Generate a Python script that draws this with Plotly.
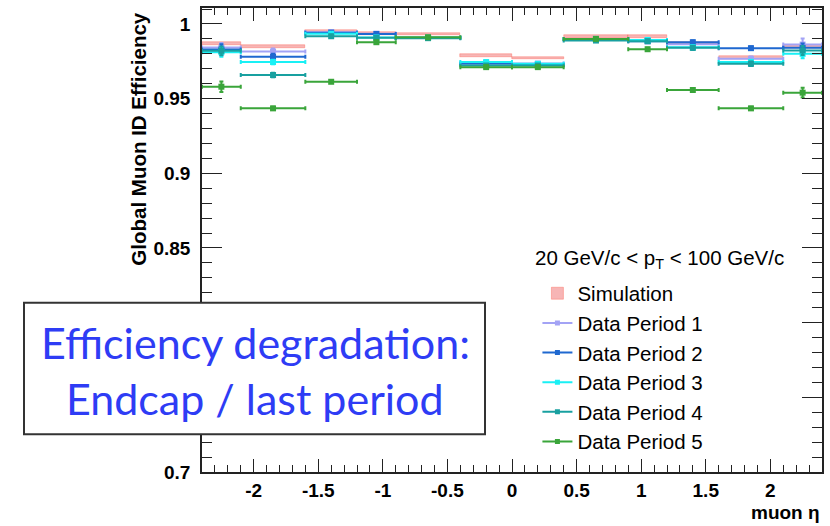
import plotly.graph_objects as go

# ---------------- data ----------------
bin_edges = [-2.4, -2.1, -1.6, -1.2, -0.9, -0.4, 0.0, 0.4, 0.9, 1.2, 1.6, 2.1, 2.4]

sim = [0.9869, 0.9847, 0.9953, 0.9935, 0.9933, 0.9789, 0.9773, 0.9916, 0.9916, 0.9872, 0.9778, 0.9849]
sim_err = [0.0012, 0.0010, 0.0008, 0.0008, 0.0008, 0.0008, 0.0008, 0.0008, 0.0008, 0.0008, 0.0010, 0.0012]

period1 = [0.9842, 0.9816, 0.9945, 0.9935, 0.9908, 0.9733, 0.9735, 0.9900, 0.9890, 0.9865, 0.9767, 0.9862]
period2 = [0.9829, 0.9780, 0.9942, 0.9933, 0.9907, 0.9735, 0.9727, 0.9898, 0.9884, 0.9878, 0.9838, 0.9840]
period3 = [0.9811, 0.9745, 0.9935, 0.9910, 0.9908, 0.9745, 0.9733, 0.9900, 0.9893, 0.9844, 0.9745, 0.9800]
period4 = [0.9820, 0.9658, 0.9918, 0.9907, 0.9905, 0.9722, 0.9722, 0.9889, 0.9885, 0.9840, 0.9733, 0.9822]
period5 = [0.9580, 0.9435, 0.9613, 0.9878, 0.9911, 0.9711, 0.9711, 0.9900, 0.9831, 0.9558, 0.9435, 0.9540]

err1 = [0.0030, 0.0020, 0.0010, 0.0010, 0.0008, 0.0010, 0.0010, 0.0008, 0.0010, 0.0012, 0.0015, 0.0040]
err2 = [0.0035, 0.0020, 0.0010, 0.0010, 0.0008, 0.0010, 0.0010, 0.0008, 0.0010, 0.0012, 0.0012, 0.0030]
err3 = [0.0030, 0.0015, 0.0010, 0.0010, 0.0008, 0.0010, 0.0010, 0.0008, 0.0010, 0.0012, 0.0015, 0.0030]
err4 = [0.0030, 0.0015, 0.0010, 0.0010, 0.0008, 0.0010, 0.0010, 0.0008, 0.0010, 0.0012, 0.0015, 0.0030]
err5 = [0.0035, 0.0010, 0.0008, 0.0010, 0.0008, 0.0010, 0.0010, 0.0008, 0.0010, 0.0010, 0.0010, 0.0033]

series_names = ["Data Period 1", "Data Period 2", "Data Period 3", "Data Period 4", "Data Period 5"]
series_colors = ["#a3a3f5", "#1f68d0", "#19f0f5", "#18a0a0", "#3aa53a"]

x_tickvals = [-2, -1.5, -1, -0.5, 0, 0.5, 1, 1.5, 2]
x_ticktext = ["-2", "-1.5", "-1", "-0.5", "0", "0.5", "1", "1.5", "2"]
y_tickvals = [0.7, 0.75, 0.8, 0.85, 0.9, 0.95, 1.0]
y_ticktext = ["0.7", "0.75", "0.8", "0.85", "0.9", "0.95", "1"]

# ---------------- derived ----------------
centers = [(a + b) / 2 for a, b in zip(bin_edges[:-1], bin_edges[1:])]
widths = [b - a for a, b in zip(bin_edges[:-1], bin_edges[1:])]
half_widths = [w / 2 for w in widths]

FONT = "Liberation Sans, Arial, sans-serif"

fig = go.Figure()

# Simulation band
fig.add_trace(go.Bar(
    x=centers, y=[2 * e for e in sim_err], base=[v - e for v, e in zip(sim, sim_err)],
    width=widths, name="Simulation", legendgroup="sim",
    marker=dict(color="rgba(240,120,120,0.55)", line=dict(color="rgba(255,60,40,0.6)", width=0.5)),
    showlegend=True,
))

data = [period1, period2, period3, period4, period5]
errs = [err1, err2, err3, err4, err5]
for name, col, vals, ev in zip(series_names, series_colors, data, errs):
    fig.add_trace(go.Scatter(
        x=centers, y=vals, mode="markers", name=name, legendgroup=name, showlegend=False,
        marker=dict(symbol="square", size=6, color=col),
        error_x=dict(type="data", array=half_widths, color=col, thickness=2, width=2),
        error_y=dict(type="data", array=ev, color=col, thickness=2, width=2),
    ))
    # legend entry (line + marker)
    fig.add_trace(go.Scatter(
        x=[None], y=[None], mode="lines+markers", name=name, legendgroup=name, showlegend=True,
        line=dict(color=col, width=2), marker=dict(symbol="square", size=5, color=col),
    ))

fig.update_layout(
    width=830, height=526,
    margin=dict(l=202, r=8, t=6, b=54),
    paper_bgcolor="white", plot_bgcolor="white",
    barmode="overlay", bargap=0,
    showlegend=True,
    legend=dict(
        x=0.541, y=0.428, xanchor="left", yanchor="top",
        font=dict(family=FONT, size=20.5, color="black"),
        bgcolor="rgba(0,0,0,0)", traceorder="grouped", tracegroupgap=0,
        itemwidth=30,
    ),
    font=dict(family=FONT, color="black"),
)

fig.update_xaxes(
    range=[-2.4, 2.4], showgrid=False, zeroline=False,
    showline=True, linecolor="#222", linewidth=1.5, mirror="allticks",
    ticks="inside", ticklen=13, tickwidth=1, tickcolor="#222",
    tickvals=x_tickvals, ticktext=x_ticktext,
    tickfont=dict(family=FONT, size=19, weight="bold", color="black"),
    ticklabelstandoff=0,
    minor=dict(ticks="inside", ticklen=7, dtick=0.1, tick0=0, tickcolor="#222", showgrid=False),
)
fig.update_yaxes(
    range=[0.7, 1.0107], showgrid=False, zeroline=False,
    showline=True, linecolor="#222", linewidth=1.5, mirror="allticks",
    ticks="inside", ticklen=20, tickwidth=1, tickcolor="#222",
    tickvals=y_tickvals, ticktext=y_ticktext,
    tickfont=dict(family=FONT, size=19, weight="bold", color="black"),
    ticklabelstandoff=6,
    minor=dict(ticks="inside", ticklen=10, dtick=0.01, tick0=0.7, tickcolor="#222", showgrid=False),
)

# axis titles
fig.add_annotation(
    text="Global Muon ID Efficiency", textangle=-90, xref="paper", yref="paper",
    x=-0.103, y=1, xanchor="center", yanchor="top", yshift=-3, showarrow=False,
    font=dict(family=FONT, size=20.5, weight="bold", color="black"),
)
fig.add_annotation(
    text="muon η", xref="paper", yref="paper", x=1, y=-0.088,
    xanchor="right", yanchor="middle", showarrow=False,
    font=dict(family=FONT, size=19, weight="bold", color="black"),
)
# legend header
fig.add_annotation(
    text="20 GeV/c < p<sub>T</sub> < 100 GeV/c", xref="paper", yref="paper",
    x=0.534, y=(472 - 258) / 466, xanchor="left", yanchor="middle", showarrow=False,
    font=dict(family=FONT, size=20.5, color="black"),
)

# callout box
fig.add_shape(
    type="rect", xref="paper", yref="paper",
    x0=(24 - 202) / 620, x1=(485 - 202) / 620, y0=(472 - 434) / 466, y1=(472 - 302) / 466,
    line=dict(color="#333", width=2), fillcolor="white", layer="above",
)
for txt, yc in [("Efficiency degradation:", 342), ("Endcap / last period", 398)]:
    fig.add_annotation(
        text=txt, xref="paper", yref="paper", x=(255 - 202) / 620, y=(472 - yc) / 466,
        xanchor="center", yanchor="middle", showarrow=False,
        font=dict(family="Lato, sans-serif", size=43, color="#2e3cf5"),
    )

fig.write_html("out.html")
